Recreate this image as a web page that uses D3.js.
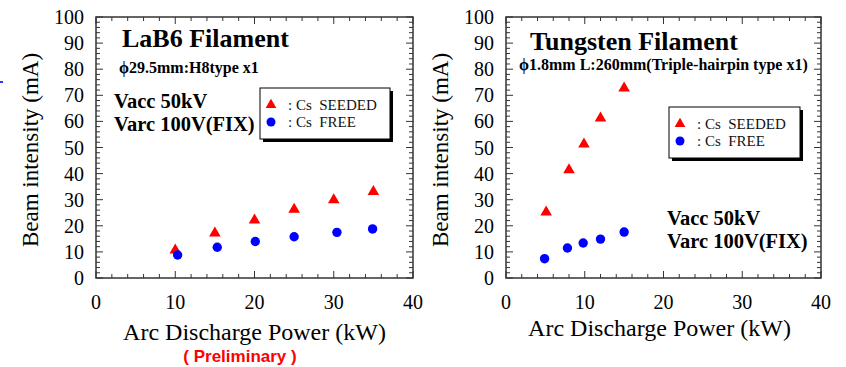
<!DOCTYPE html>
<html>
<head>
<meta charset="utf-8">
<script src="https://cdn.jsdelivr.net/npm/d3@7"></script>
<style>
  body { margin: 0; background: #fff; }
  svg { display: block; }
</style>
</head>
<body>
<svg id="chart" width="846" height="367"></svg>
<script>
// LaB6 filament
const lab6SeededX = [10, 15, 20, 25, 30, 35];
const lab6SeededY = [10.7, 17.2, 22.2, 26.3, 29.9, 33.1];
const lab6FreeX = [10.3, 15.3, 20.1, 25, 30.4, 34.9];
const lab6FreeY = [8.8, 11.8, 14, 15.8, 17.5, 18.8];

// Tungsten filament
const wSeededX = [5.1, 8, 9.9, 12, 15];
const wSeededY = [25.2, 41.4, 51.3, 61.2, 72.7];
const wFreeX = [4.9, 7.8, 9.8, 12, 15];
const wFreeY = [7.4, 11.5, 13.4, 14.9, 17.6];

const xTicks = [0, 10, 20, 30, 40];
const yTicks = [0, 10, 20, 30, 40, 50, 60, 70, 80, 90, 100];
const legendLabels = [": Cs  SEEDED", ": Cs  FREE"];

const SERIF = "'Liberation Serif', 'Times New Roman', Times, 'DejaVu Serif', serif";

const svg = d3.select('#chart').attr('font-family', SERIF);

function drawPanel(p) {
  const x = d3.scaleLinear().domain([0, 40]).range([p.left, p.right]);
  const y = d3.scaleLinear().domain([0, 100]).range([278, 17]);
  const g = svg.append('g');

  // ticks point inward on all four sides, minor every 2
  const xMinor = d3.range(0, 41, 2);
  const yMinor = d3.range(0, 101, 2);
  const tk = g.append('g').attr('stroke', '#333').attr('stroke-width', 1);
  xMinor.forEach(v => {
    const len = v % 10 === 0 ? 7 : 4;
    tk.append('line').attr('x1', x(v)).attr('x2', x(v)).attr('y1', y(0)).attr('y2', y(0) - len);
    tk.append('line').attr('x1', x(v)).attr('x2', x(v)).attr('y1', y(100)).attr('y2', y(100) + len);
  });
  yMinor.forEach(v => {
    const len = v % 10 === 0 ? 7 : 4;
    tk.append('line').attr('x1', p.left).attr('x2', p.left + len).attr('y1', y(v)).attr('y2', y(v));
    tk.append('line').attr('x1', p.right).attr('x2', p.right - len).attr('y1', y(v)).attr('y2', y(v));
  });

  g.append('rect')
    .attr('x', p.left).attr('y', y(100))
    .attr('width', p.right - p.left).attr('height', y(0) - y(100))
    .attr('fill', 'none').attr('stroke', '#333').attr('stroke-width', 1.5);

  // tick labels
  g.selectAll('.yl').data(yTicks).enter().append('text')
    .attr('x', p.left - 12).attr('y', d => y(d) + 7)
    .attr('text-anchor', 'end').attr('font-size', 20).text(d => d);
  g.selectAll('.xl').data(xTicks).enter().append('text')
    .attr('x', d => x(d)).attr('y', 309)
    .attr('text-anchor', 'middle').attr('font-size', 20).text(d => d);

  // axis titles
  g.append('text')
    .attr('transform', 'translate(' + (p.left - 58) + ',150) rotate(-90)')
    .attr('text-anchor', 'middle').attr('font-size', 23)
    .text('Beam intensity  (mA)');
  g.append('text')
    .attr('x', (p.left + p.right) / 2 + p.xTitleShift).attr('y', p.xTitleY)
    .attr('text-anchor', 'middle').attr('font-size', 24)
    .text('Arc Discharge Power (kW)');

  // annotations
  g.append('text').attr('x', p.title[0]).attr('y', p.title[1])
    .attr('font-size', 26).attr('font-weight', 'bold').text(p.titleText);
  g.append('text').attr('x', p.sub[0]).attr('y', p.sub[1])
    .attr('font-size', 16).attr('font-weight', 'bold').text(p.subText);
  g.append('text').attr('x', p.vacc[0]).attr('y', p.vacc[1])
    .attr('font-size', 20.5).attr('font-weight', 'bold').text('Vacc 50kV');
  g.append('text').attr('x', p.vacc[0]).attr('y', p.vacc[1] + 23)
    .attr('font-size', 20.5).attr('font-weight', 'bold').text('Varc 100V(FIX)');

  // legend box with drop shadow
  const L = p.legend;
  g.append('rect').attr('x', L[0] + 3).attr('y', L[1] + 3).attr('width', L[2]).attr('height', L[3]).attr('fill', '#000');
  g.append('rect').attr('x', L[0]).attr('y', L[1]).attr('width', L[2]).attr('height', L[3])
    .attr('fill', '#fff').attr('stroke', '#000').attr('stroke-width', 1);
  g.append('path').attr('d', d3.symbol(d3.symbolTriangle, 50)())
    .attr('transform', 'translate(' + (L[0] + 11) + ',' + (L[1] + 17) + ')').attr('fill', '#ff0000');
  g.append('circle').attr('cx', L[0] + 11).attr('cy', L[1] + 34).attr('r', 4.5).attr('fill', '#0000ff');
  legendLabels.forEach((t, i) => {
    g.append('text').attr('x', L[0] + 28).attr('y', L[1] + 22 + i * 17)
      .attr('font-size', 15).attr('fill', '#111').style('white-space', 'pre').text(t);
  });

  // data
  const tri = d3.symbol(d3.symbolTriangle, 58);
  g.selectAll('.seed').data(p.sx.map((v, i) => [v, p.sy[i]])).enter().append('path')
    .attr('d', tri()).attr('fill', '#ff0000')
    .attr('transform', d => 'translate(' + x(d[0]) + ',' + y(d[1]) + ')');
  g.selectAll('.free').data(p.fx.map((v, i) => [v, p.fy[i]])).enter().append('circle')
    .attr('cx', d => x(d[0])).attr('cy', d => y(d[1])).attr('r', 4.7).attr('fill', '#0000ff');
}

drawPanel({
  left: 96, right: 413,
  sx: lab6SeededX, sy: lab6SeededY, fx: lab6FreeX, fy: lab6FreeY,
  xTitleShift: 0, xTitleY: 340,
  title: [122, 47], titleText: 'LaB6 Filament',
  sub: [119, 73], subText: 'ϕ29.5mm:H8type x1',
  vacc: [114, 108],
  legend: [260, 88, 130, 51]
});

drawPanel({
  left: 506, right: 821,
  sx: wSeededX, sy: wSeededY, fx: wFreeX, fy: wFreeY,
  xTitleShift: -4, xTitleY: 336,
  title: [530, 50], titleText: 'Tungsten Filament',
  sub: [519, 70], subText: 'ϕ1.8mm L:260mm(Triple-hairpin type x1)',
  vacc: [667, 225],
  legend: [669, 107, 131, 51]
});

// red note under left chart
svg.append('text').attr('x', 240).attr('y', 362).attr('text-anchor', 'middle')
  .attr('font-family', "'Liberation Sans', Arial, sans-serif").attr('font-weight', 'bold')
  .attr('font-size', 17).attr('fill', '#ff0000').style('white-space', 'pre')
  .text('( Preliminary )');

// small blue mark at left edge
svg.append('line').attr('x1', 0).attr('x2', 3).attr('y1', 82).attr('y2', 82)
  .attr('stroke', '#3333ff').attr('stroke-width', 2);
</script>
</body>
</html>
